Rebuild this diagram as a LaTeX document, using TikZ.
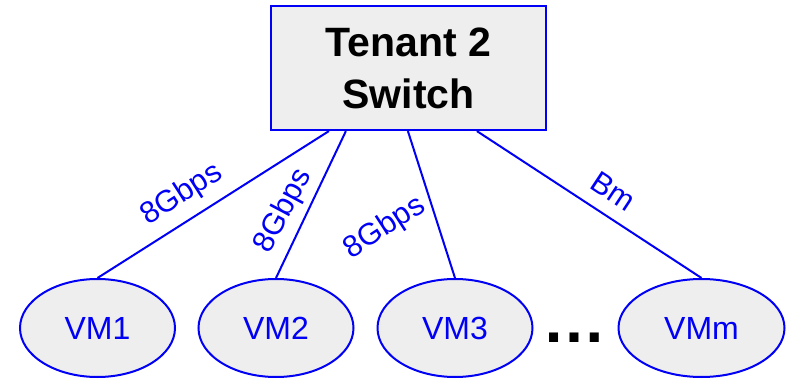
\documentclass[tikz,border=0pt]{standalone}
\usepackage{fontspec}
\setmainfont{Liberation Sans}
\usetikzlibrary{shapes.geometric,calc}
\definecolor{netblue}{RGB}{0,0,245}
\definecolor{boxgray}{RGB}{238,238,238}

\begin{document}
\begin{tikzpicture}[x=1pt,y=-1pt,
  switchbox/.style={draw=netblue, line width=2.2pt, fill=boxgray,
    minimum width=275pt, minimum height=124pt, inner sep=0pt, align=center,
    font=\fontsize{41}{52}\selectfont\bfseries},
  vm/.style={ellipse, draw=netblue, line width=2pt, fill=boxgray,
    minimum height=98pt, inner sep=0pt, text=netblue,
    font=\fontsize{32}{32}\selectfont},
  link/.style={draw=netblue, line width=2pt},
  rate/.style={text=netblue, font=\fontsize{30.5}{30.5}\selectfont, inner sep=0pt}]
\useasboundingbox (0,0) rectangle (790,379);

% tenant switch
\node[switchbox] (sw) at (408.5,68) {Tenant 2\\Switch};

% virtual machines
\node[vm, minimum width=155pt] (vm1) at (97.5,328) {VM1};
\node[vm, minimum width=155pt] (vm2) at (276,328) {VM2};
\node[vm, minimum width=155pt] (vm3) at (455,328) {VM3};
\node[vm, minimum width=166pt] (vmm) at (701.5,328) {VMm};

% dots for the omitted machines
\node[anchor=base, inner sep=0pt, font=\fontsize{64}{64}\selectfont\bfseries] (dots) at (574,342) {…};

% attachment points along the bottom of the switch
\coordinate (p1) at ($(sw.south west)+(59,0)$);
\coordinate (p2) at ($(sw.south west)+(76,0)$);
\coordinate (p3) at ($(sw.south west)+(138,0)$);
\coordinate (p4) at ($(sw.south west)+(207,0)$);

% links
\draw[link] (p1) -- (vm1.north);
\draw[link] (p2) -- (vm2.north);
\draw[link] (p3) -- (vm3.north);
\draw[link] (p4) -- (vmm.north);

% link rates
\node[rate, rotate=32.6] (r1) at (182,195) {8Gbps};
\node[rate, rotate=62] (r2) at (284,211) {8Gbps};
\node[rate, rotate=33] (r3) at (385,228) {8Gbps};
\node[rate, rotate=-33.5] (rm) at (613,191) {Bm};
\end{tikzpicture}
\end{document}
